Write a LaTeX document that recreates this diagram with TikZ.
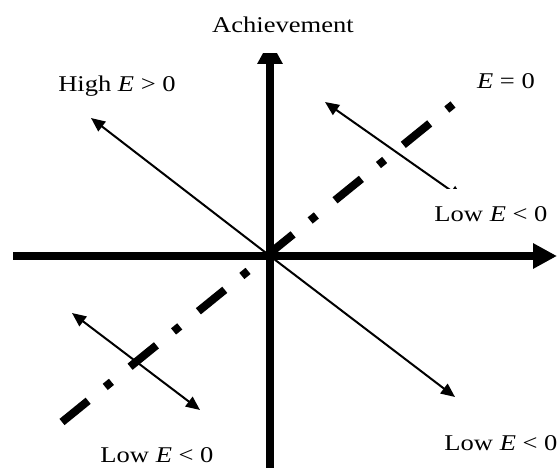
\documentclass[tikz,border=0pt]{standalone}
\usepackage{fontspec}
\setmainfont{Liberation Serif}[FakeStretch=1.18]
\usepackage{tikz}
\usetikzlibrary{arrows.meta,positioning}

\begin{document}
\begin{tikzpicture}[x=1pt,y=-1pt,line join=miter,
    axis/.style={line width=8pt, -{Triangle[length=24pt,width=24pt]}},
    trend/.style={line width=2pt, -{Triangle[length=14pt,width=12pt]}},
    balance/.style={line width=8pt, line cap=butt,
      dash pattern=on 8pt off 22pt on 34pt off 24pt},
    lbl/.style={anchor=base, inner sep=0pt,
      font=\fontsize{22.5}{27}\selectfont}]
  \useasboundingbox (0,0) rectangle (560,468);

  % origin and the ends of the two axes
  \coordinate (O) at (270,256);
  \coordinate (xl) at (13,256);
  \coordinate (xr) at (557,256);
  \coordinate (yb) at (270,468);
  \coordinate (yt) at (270,40);

  % ends of the arrows and of the E = 0 line
  \coordinate (nw) at (91,118);
  \coordinate (se) at (455,397);
  \coordinate (ua) at (325,102);
  \coordinate (ub) at (463,199);
  \coordinate (la) at (72,313);
  \coordinate (lb) at (200,410);
  \coordinate (eq top) at (453,104.5);
  \coordinate (eq bot) at (62,422);

  % The E = 0 line starts with a dot at its upper end.
  \draw[balance] (eq top) -- (eq bot);

  \draw[trend] (O) -- (nw);
  \draw[trend] (O) -- (se);
  \draw[trend, {Triangle[length=14pt,width=12pt]}-{Triangle[length=14pt,width=12pt]}]
    (ua) -- (ub);
  \draw[trend, {Triangle[length=14pt,width=12pt]}-{Triangle[length=14pt,width=12pt]}]
    (la) -- (lb);

  \draw[axis] (xl) -- (xr);
  \draw[axis] (yb) -- (yt);

  % The white label boxes hide the top of the vertical arrow and the lower
  % head of the short arrow.
  \node[lbl, fill=white, inner ysep=20pt] (ach) at (283,33) {Achievement};
  \node[lbl] (high) at (117,92) {High \textit{E} > 0};
  \node[lbl] (zero) at (506,89) {\textit{E} = 0};
  \node[lbl, fill=white, inner ysep=18pt] (low ur) at (491,222) {Low \textit{E} < 0};
  \node[lbl] (low ll) at (157,462) {Low \textit{E} < 0};
  \node[lbl] (low lr) at (501,450) {Low \textit{E} < 0};
\end{tikzpicture}
\end{document}
